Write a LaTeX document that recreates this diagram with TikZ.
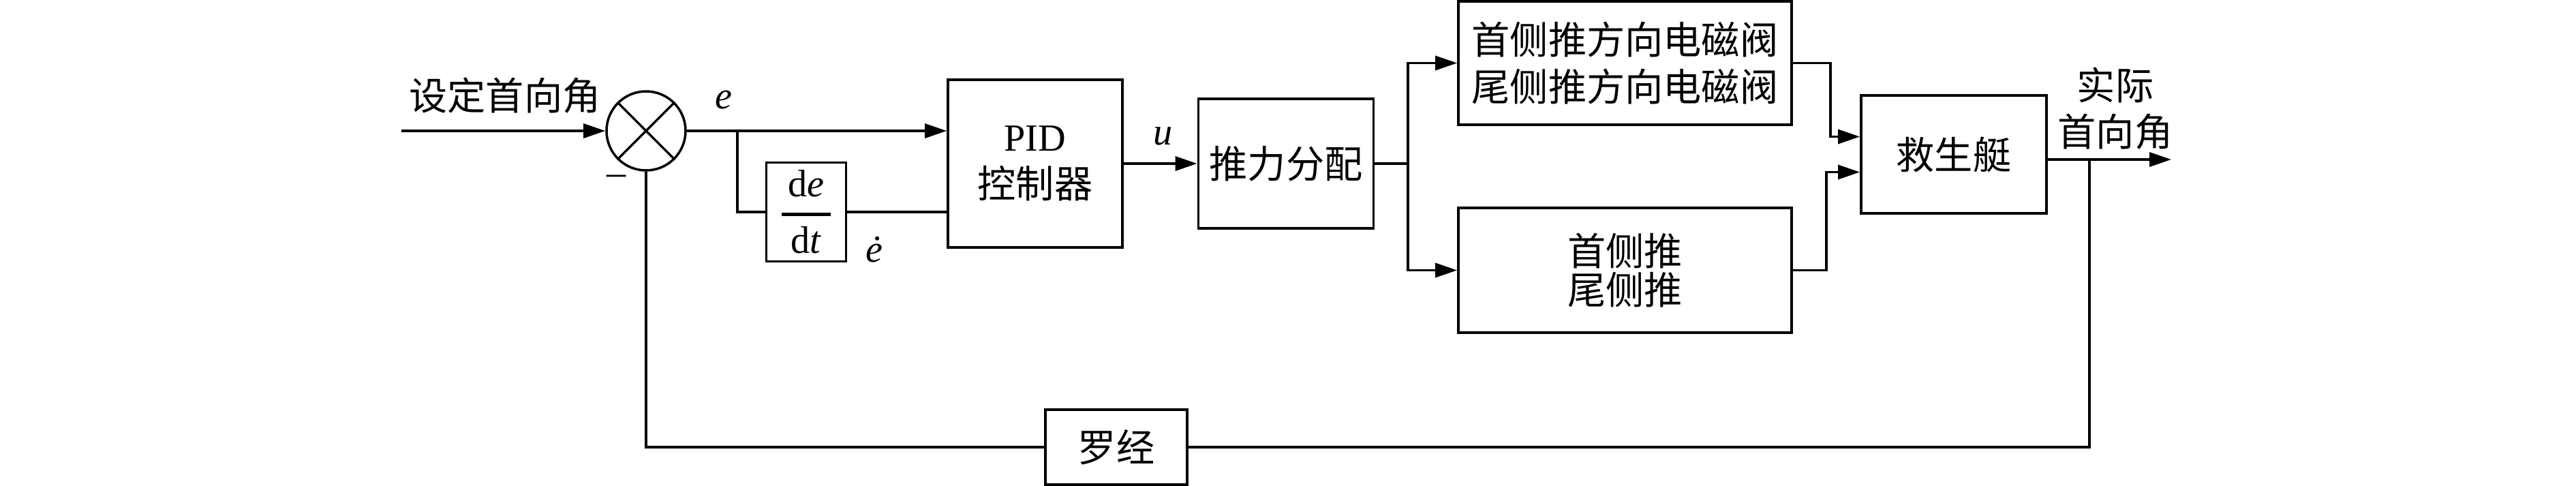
\documentclass[tikz,border=0pt]{standalone}
\usepackage{fontspec}
\setmainfont{Liberation Serif}
\newfontfamily\cjk{Noto Sans CJK SC}
\usepackage{tikz}
\usetikzlibrary{arrows.meta, positioning, calc}

\begin{document}
\begin{tikzpicture}[
  font=\fontsize{16pt}{19.5pt}\selectfont,
  wire/.style={line width=1pt},
  arr/.style={wire, -{Triangle[length=0.32cm, width=0.21cm]}},
  box/.style={draw, line width=1.1pt, fill=white, align=center, inner sep=0pt}
]
\useasboundingbox (0,0) rectangle (37.8,7.12);

% Summing junction and input
\node[draw, wire, circle, minimum size=1.16cm, inner sep=0pt] (sum) at (9.48,5.20) {};
\draw[wire] (sum.45) -- (sum.225);
\draw[wire] (sum.135) -- (sum.315);
\coordinate (in) at (5.89,5.20);
\node (setpt) at (7.41,5.72) {\cjk 设定首向角};
\node[anchor=base] (minus) at (9.05,4.41) {--};

% Blocks
\node[box, minimum width=1.17cm, minimum height=1.45cm] (diff) at (11.83,4.01)
  {$\displaystyle{\mbox{\,d\textit{e}\,} \above 1.4pt \mbox{\,d\textit{t}\,}}$};
\node[box, minimum width=2.56cm, minimum height=2.46cm] (pid) at (15.19,4.72)
  {PID\\\cjk 控制器};
\node[box, minimum width=2.57cm, minimum height=1.90cm] (alloc) at (18.87,4.72)
  {\cjk 推力分配};
\node[box, minimum width=4.89cm, minimum height=1.81cm] (valve) at (23.845,6.195)
  {\cjk 首侧推方向电磁阀\\\cjk 尾侧推方向电磁阀};
\node[box, minimum width=4.89cm, minimum height=1.83cm] (thrust) at (23.845,3.155)
  {\cjk 首侧推\\[-0.11cm]\cjk 尾侧推};
\node[box, minimum width=2.72cm, minimum height=1.73cm] (boat) at (28.67,4.855)
  {\cjk 救生艇};
\node[box, minimum width=2.08cm, minimum height=1.10cm] (compass) at (16.38,0.56)
  {\cjk 罗经};

% Signal labels
\node (elbl) at (10.62,5.65) {\textit{e}};
\node (edot) at (12.83,3.46) {\textit{ė}};
\node (ulbl) at (17.07,5.12) {\textit{u}};
\node[align=center] (outlbl) at (31.04,5.53) {\cjk 实际\\\cjk 首向角};

% Branch points
\coordinate (br1) at (10.82,5.20);
\coordinate (br2) at (20.66,4.72);
\coordinate (br3) at (30.66,4.78);
\coordinate (out) at (31.86,4.78);

% Forward path
\draw[arr] (in) -- (sum);
\draw[arr] (sum) -- (sum -| pid.west);
\draw[wire] (br1) |- (diff);
\draw[wire] (diff) -- (diff -| pid.west);
\draw[arr] (pid) -- (alloc);
\draw[wire] (alloc) -- (br2);
\draw[arr] (br2) |- (valve);
\draw[arr] (br2) |- (thrust);
\draw[arr] (valve.east) -- ++(0.55,0) |- ([yshift=0.26cm]boat.west);
\draw[arr] (thrust.east) -- ++(0.49,0) |- ([yshift=-0.26cm]boat.west);
\draw[arr] (boat.east |- br3) -- (out);

% Feedback
\draw[wire] (br3) |- (compass);
\draw[wire] (compass) -| (sum);
\end{tikzpicture}
\end{document}
